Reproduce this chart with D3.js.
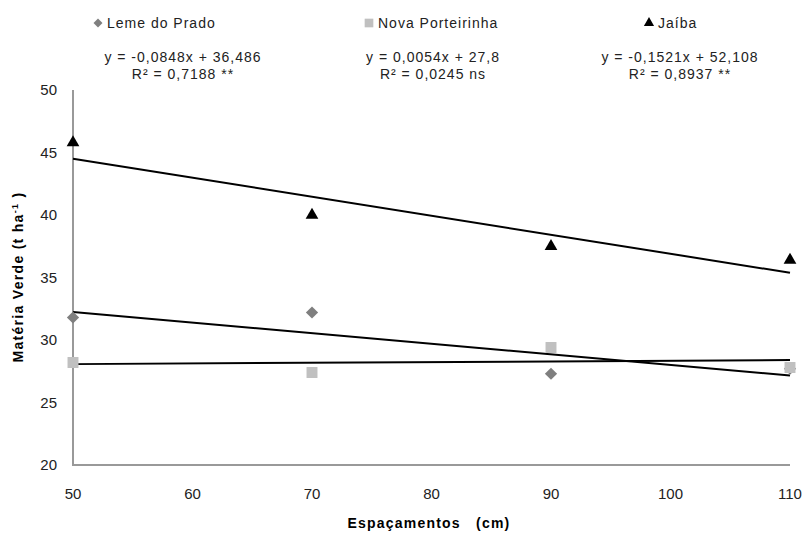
<!DOCTYPE html>
<html>
<head>
<meta charset="utf-8">
<script src="https://cdn.jsdelivr.net/npm/d3@7"></script>
<style>
body { margin: 0; background: #fff; }
text { font-family: "Liberation Sans", Arial, sans-serif; }
</style>
</head>
<body>
<script>
var width = 803, height = 533;

// data
var espacamentos = [50, 70, 90, 110];
var lemeDoPrado = [31.8, 32.2, 27.3, 27.7];
var novaPorteirinha = [28.2, 27.4, 29.4, 27.8];
var jaiba = [45.8, 40.0, 37.5, 36.4];
var seriesNames = ["Leme do Prado", "Nova Porteirinha", "Jaíba"];
var slopes = [-0.0848, 0.0054, -0.1521];
var intercepts = [36.486, 27.8, 52.108];
var equations = ["y = -0,0848x + 36,486", "y = 0,0054x + 27,8", "y = -0,1521x + 52,108"];
var r2labels = ["R² = 0,7188 **", "R² = 0,0245 ns", "R² = 0,8937 **"];
var xTicks = [50, 60, 70, 80, 90, 100, 110];
var yTicks = [20, 25, 30, 35, 40, 45, 50];

var series = [
    { name: seriesNames[0], values: lemeDoPrado, shape: d3.symbolSquare, rot: 45, color: "#7f7f7f", size: 75 },
    { name: seriesNames[1], values: novaPorteirinha, shape: d3.symbolSquare, rot: 0, color: "#c0c0c0", size: 120 },
    { name: seriesNames[2], values: jaiba, shape: d3.symbolTriangle, rot: 0, color: "#000000", size: 70 }
];

var svg = d3.select('body').append('svg')
    .attr('width', width)
    .attr('height', height);

var x = d3.scaleLinear().domain([50, 110]).range([73, 790]);
var y = d3.scaleLinear().domain([20, 50]).range([465, 90]);

// axes, no tick marks
svg.append('line')
    .attr('x1', x(50)).attr('x2', x(50))
    .attr('y1', y(50)).attr('y2', y(20))
    .attr('stroke', '#999').attr('stroke-width', 2);
svg.append('line')
    .attr('x1', x(50) - 1).attr('x2', x(110))
    .attr('y1', y(20)).attr('y2', y(20))
    .attr('stroke', '#999').attr('stroke-width', 2);

svg.selectAll('.ytick').data(yTicks).enter().append('text')
    .attr('x', 57)
    .attr('y', function (d) { return y(d) + 5; })
    .attr('text-anchor', 'end')
    .attr('font-size', 15)
    .attr('fill', '#222')
    .text(function (d) { return d; });

svg.selectAll('.xtick').data(xTicks).enter().append('text')
    .attr('x', function (d) { return x(d); })
    .attr('y', 499)
    .attr('text-anchor', 'middle')
    .attr('font-size', 15)
    .attr('fill', '#222')
    .text(function (d) { return d; });

// axis titles
svg.append('text')
    .attr('x', 429).attr('y', 528)
    .attr('text-anchor', 'middle')
    .attr('font-size', 14)
    .attr('font-weight', 'bold')
    .attr('letter-spacing', 1.2)
    .attr('xml:space', 'preserve')
    .text('Espaçamentos   (cm)');

var yt = svg.append('text')
    .attr('transform', 'translate(23,277) rotate(-90)')
    .attr('text-anchor', 'middle')
    .attr('font-size', 14)
    .attr('font-weight', 'bold')
    .attr('letter-spacing', 1.3);
yt.append('tspan').text('Matéria Verde (t ha');
yt.append('tspan').attr('dy', -5).attr('font-size', 9).text('-1');
yt.append('tspan').attr('dy', 5).text(' )');

// regression lines
series.forEach(function (s, i) {
    svg.append('line')
        .attr('x1', x(50)).attr('x2', x(110))
        .attr('y1', y(slopes[i] * 50 + intercepts[i]))
        .attr('y2', y(slopes[i] * 110 + intercepts[i]))
        .attr('stroke', '#000').attr('stroke-width', 2);
});

// markers
series.forEach(function (s) {
    svg.selectAll(null).data(s.values).enter().append('path')
        .attr('d', d3.symbol().type(s.shape).size(s.size))
        .attr('transform', function (d, i) {
            return 'translate(' + x(espacamentos[i]) + ',' + y(d) + ') rotate(' + s.rot + ')';
        })
        .attr('fill', s.color);
});

// legend + equations
var legX = [107, 378, 658];
var eqX = [183, 433, 680];
series.forEach(function (s, i) {
    var t = svg.append('text')
        .attr('x', legX[i]).attr('y', 28)
        .attr('font-size', 14)
        .attr('letter-spacing', 1)
        .attr('fill', '#222')
        .text(s.name);
    svg.append('path')
        .attr('d', d3.symbol().type(s.shape).size(s.rot ? 40 : (s.shape === d3.symbolSquare ? 75 : 45)))
        .attr('transform', 'translate(' + (legX[i] - 9) + ',23) rotate(' + s.rot + ')')
        .attr('fill', s.color);
    svg.append('text')
        .attr('x', eqX[i]).attr('y', 62)
        .attr('text-anchor', 'middle')
        .attr('font-size', 14)
        .attr('letter-spacing', 1)
        .attr('fill', '#222')
        .text(equations[i]);
    svg.append('text')
        .attr('x', eqX[i]).attr('y', 79)
        .attr('text-anchor', 'middle')
        .attr('font-size', 14)
        .attr('letter-spacing', 1)
        .attr('fill', '#222')
        .text(r2labels[i]);
});
</script>
</body>
</html>
